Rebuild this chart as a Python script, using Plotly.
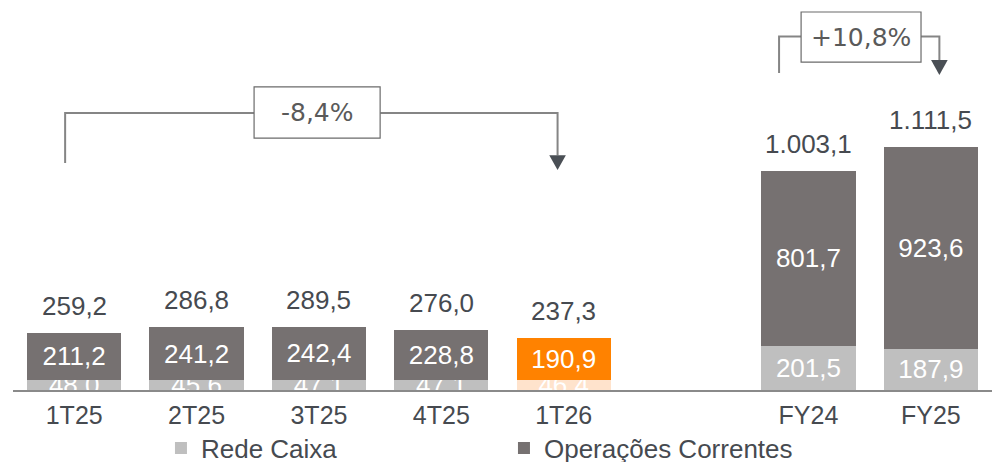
import plotly.graph_objects as go

# ---- data ----
categories = ['1T25', '2T25', '3T25', '4T25', '1T26', 'FY24', 'FY25']
x_pos = [0, 1, 2, 3, 4, 6, 7]
rede_caixa = [48.0, 45.6, 47.1, 47.1, 46.4, 201.5, 187.9]
operacoes = [211.2, 241.2, 242.4, 228.8, 190.9, 801.7, 923.6]
totals = [259.2, 286.8, 289.5, 276.0, 237.3, 1003.1, 1111.5]
growth_labels = ['-8,4%', '+10,8%']
series_names = ['Rede Caixa', 'Operações Correntes']


def fmt(v):
    s = f"{v:,.1f}"
    return s.replace(',', 'X').replace('.', ',').replace('X', '.')


FONT = 'Liberation Sans, Arial, sans-serif'
TXT = '#464a50'
DARK = '#767171'
LIGHT = '#BFBFBF'
ORANGE = '#FF8200'
LORANGE = '#FFE3CC'

hl = [i == 4 for i in range(len(categories))]
rede_colors = [LORANGE if h else LIGHT for h in hl]
oper_colors = [ORANGE if h else DARK for h in hl]

fig = go.Figure()
fig.add_trace(go.Bar(
    x=x_pos, y=rede_caixa, name=series_names[0],
    marker=dict(color=rede_colors, line=dict(width=0)),
    text=[fmt(v) for v in rede_caixa], textposition='inside',
    insidetextanchor='middle', textangle=0,
    textfont=dict(family=FONT, size=26, color='white'),
    hoverinfo='skip',
))
fig.add_trace(go.Bar(
    x=x_pos, y=operacoes, name=series_names[1],
    marker=dict(color=oper_colors, line=dict(width=0)),
    text=[fmt(v) for v in operacoes], textposition='inside',
    insidetextanchor='middle', textangle=0,
    textfont=dict(family=FONT, size=26, color='white'),
    hoverinfo='skip',
))

annotations = []
for xp, t in zip(x_pos, totals):
    annotations.append(dict(
        x=xp, y=t, xref='x', yref='y', text=fmt(t), showarrow=False,
        yanchor='bottom', yshift=10,
        font=dict(family=FONT, size=26, color=TXT)))

LINE = '#858585'
ARROW = '#4a4f55'
shapes = []


def bracket(x_start, x_end, y_line, y_start_bottom, y_tip, box_x0, box_x1, box_y0, box_y1, label):
    tri_top = y_tip + 68
    shapes.append(dict(type='path', xref='x', yref='y',
                       path=f"M{x_start},{y_start_bottom} L{x_start},{y_line} L{box_x0},{y_line}",
                       line=dict(color=LINE, width=2)))
    shapes.append(dict(type='path', xref='x', yref='y',
                       path=f"M{box_x1},{y_line} L{x_end},{y_line} L{x_end},{tri_top}",
                       line=dict(color=LINE, width=2)))
    shapes.append(dict(type='path', xref='x', yref='y',
                       path=f"M{x_end-0.068},{tri_top} L{x_end+0.068},{tri_top} L{x_end},{y_tip} Z",
                       fillcolor=ARROW, line=dict(color=ARROW, width=0)))
    shapes.append(dict(type='rect', xref='x', yref='y', x0=box_x0, x1=box_x1, y0=box_y0, y1=box_y1,
                       fillcolor='white', line=dict(color='#6b6b6b', width=1.2)))
    annotations.append(dict(x=(box_x0 + box_x1) / 2, y=(box_y0 + box_y1) / 2, xref='x', yref='y',
                            text=label, showarrow=False, yanchor='middle',
                            font=dict(family='DejaVu Sans, Verdana, sans-serif', size=25, color='#5a5a5a')))


# quarterly bracket (1T25 -> 1T26)
bracket(x_pos[0] - 0.074, x_pos[4] - 0.05, 1268, 1039, 1007,
        x_pos[2] - 0.53, x_pos[2] + 0.50, 1153, 1387, growth_labels[0])
# annual bracket (FY24 -> FY25)
bracket(x_pos[5] - 0.24, x_pos[6] + 0.07, 1618, 1451, 1442,
        x_pos[5] - 0.06, x_pos[6] - 0.08, 1501, 1730, growth_labels[1])

fig.update_layout(
    barmode='stack', bargap=0.23,
    width=992, height=462,
    margin=dict(l=13, r=0, t=0, b=72, autoexpand=False),
    plot_bgcolor='white', paper_bgcolor='white',
    showlegend=True,
    legend=dict(orientation='h', x=0.5015, xanchor='center',
                yref='container', y=(462 - 448) / 462, yanchor='middle',
                bgcolor='rgba(0,0,0,0)',
                font=dict(family=FONT, size=26, color=TXT), traceorder='normal',
                entrywidth=298, itemclick=False, itemdoubleclick=False),
    uniformtext=dict(minsize=26, mode='show'),
    xaxis=dict(range=[-0.5, 7.5], tickmode='array', tickvals=x_pos, ticktext=categories,
               showline=True, linecolor='#8a8a8a', linewidth=2, ticks='', showgrid=False,
               zeroline=False, tickfont=dict(family=FONT, size=25, color=TXT),
               ticklabelstandoff=2, automargin=False, fixedrange=True),
    yaxis=dict(range=[0, 1785], visible=False, fixedrange=True, automargin=False),
    shapes=shapes, annotations=annotations,
)

fig.write_html('out.html', config={'displayModeBar': False},
               post_script="document.body.style.margin='0';document.body.style.overflow='hidden';")
